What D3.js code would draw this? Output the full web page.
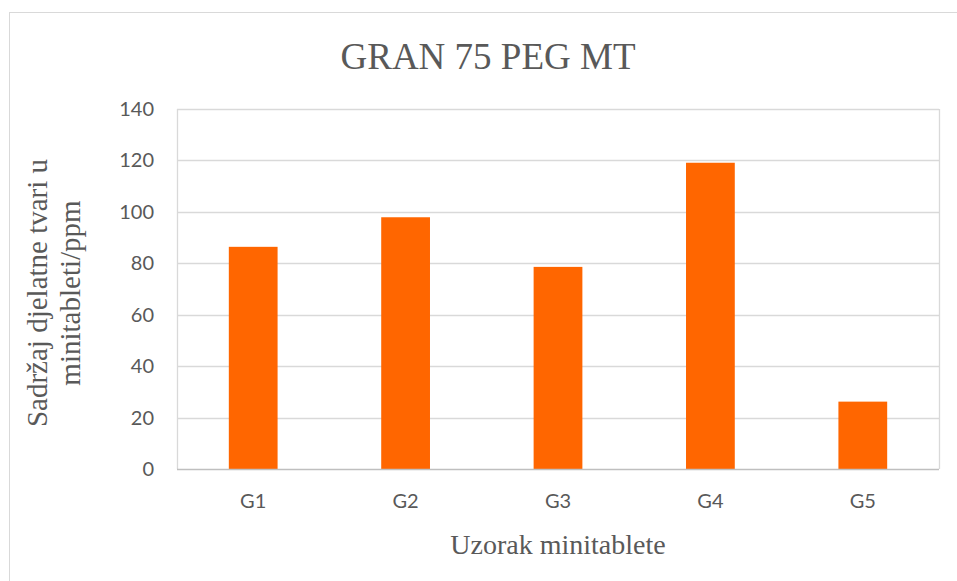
<html>
<head>
    <meta charset="utf-8">
    <style>
        body { margin: 0; background: #fff; }
        .tick-label { font-family: Lato, "Open Sans", sans-serif; font-size: 20px; fill: #595959; }
        .serif { font-family: "Liberation Serif", "Times New Roman", serif; fill: #595959; }
    </style>
    <script src="https://cdn.jsdelivr.net/npm/d3@7"></script>
</head>
<body>
<script>
    // data
    var categories = ["G1", "G2", "G3", "G4", "G5"];
    var values = [86.4, 97.9, 78.6, 119.1, 26.2];
    var yTicks = [0, 20, 40, 60, 80, 100, 120, 140];

    var chartTitle = "GRAN 75 PEG MT";
    var xTitle = "Uzorak minitablete";
    var yTitle = ["Sadržaj djelatne tvari u", "minitableti/ppm"];

    var W = 957, H = 581;
    var plot = {left: 177, right: 939, top: 109, bottom: 469};

    var svg = d3.select("body").append("svg")
        .attr("width", W)
        .attr("height", H);

    // outer chart frame (runs off the page on right / bottom)
    svg.append("rect")
        .attr("x", 9.5).attr("y", 12.5)
        .attr("width", 980).attr("height", 620)
        .attr("fill", "#fff")
        .attr("stroke", "#d9d9d9");

    var y = d3.scaleLinear().domain([0, 140]).range([plot.bottom, plot.top]);
    var x = d3.scaleBand().domain(categories).range([plot.left, plot.right]).padding(0);
    var barW = x.step() * 0.32;

    // gridlines
    svg.append("g")
        .selectAll("line")
        .data(yTicks.filter(function (d) { return d > 0; }))
        .enter()
        .append("line")
        .attr("x1", plot.left).attr("x2", plot.right)
        .attr("y1", function (d) { return Math.round(y(d)) + 0.5; })
        .attr("y2", function (d) { return Math.round(y(d)) + 0.5; })
        .attr("stroke", "#d9d9d9")
        .attr("stroke-width", 1.3);

    // plot area side borders
    [plot.left, plot.right].forEach(function (px) {
        svg.append("line")
            .attr("x1", px + 0.5).attr("x2", px + 0.5)
            .attr("y1", plot.top).attr("y2", plot.bottom)
            .attr("stroke", "#d9d9d9")
            .attr("stroke-width", 1.3);
    });

    // bars
    svg.append("g")
        .selectAll("rect")
        .data(values)
        .enter()
        .append("rect")
        .attr("x", function (d, i) { return x(categories[i]) + x.bandwidth() / 2 - barW / 2; })
        .attr("y", function (d) { return y(d); })
        .attr("width", barW)
        .attr("height", function (d) { return y(0) - y(d); })
        .attr("fill", "#ff6600");

    // x axis line
    svg.append("line")
        .attr("x1", plot.left).attr("x2", plot.right)
        .attr("y1", plot.bottom + 0.5).attr("y2", plot.bottom + 0.5)
        .attr("stroke", "#bfbfbf")
        .attr("stroke-width", 1.5);

    // y tick labels
    svg.append("g")
        .selectAll("text")
        .data(yTicks)
        .enter()
        .append("text")
        .attr("class", "tick-label")
        .attr("x", plot.left - 23)
        .attr("y", function (d) { return y(d) + 7; })
        .attr("text-anchor", "end")
        .text(function (d) { return d; });

    // x tick labels
    svg.append("g")
        .selectAll("text")
        .data(categories)
        .enter()
        .append("text")
        .attr("class", "tick-label")
        .attr("x", function (d) { return x(d) + x.bandwidth() / 2; })
        .attr("y", 508)
        .attr("text-anchor", "middle")
        .text(function (d) { return d; });

    // chart title
    svg.append("text")
        .attr("class", "serif")
        .attr("x", 488)
        .attr("y", 69)
        .attr("text-anchor", "middle")
        .attr("font-size", "37px")
        .text(chartTitle);

    // x axis title
    svg.append("text")
        .attr("class", "serif")
        .attr("x", (plot.left + plot.right) / 2)
        .attr("y", 554)
        .attr("text-anchor", "middle")
        .attr("font-size", "28px")
        .text(xTitle);

    // y axis title (two lines, rotated)
    var yt = svg.append("text")
        .attr("class", "serif")
        .attr("transform", "translate(47,293) rotate(-90)")
        .attr("text-anchor", "middle")
        .attr("font-size", "29px");
    yTitle.forEach(function (line, i) {
        yt.append("tspan")
            .attr("x", 0)
            .attr("dy", i === 0 ? 0 : 33)
            .text(line);
    });
</script>
</body>
</html>
